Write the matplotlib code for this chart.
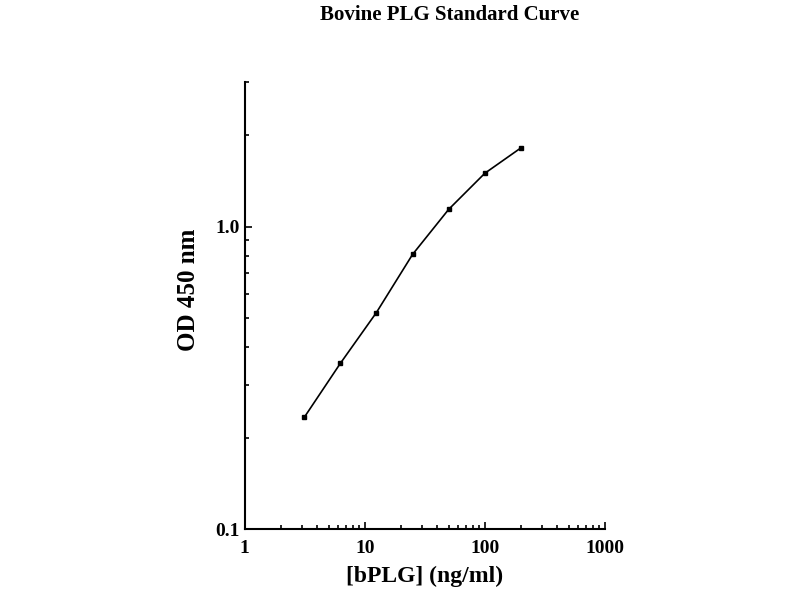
import matplotlib.pyplot as plt
from matplotlib.ticker import FixedLocator, LogLocator, NullFormatter

# Standard curve readings
conc = [3.125, 6.25, 12.5, 25, 50, 100, 200]
od = [0.234, 0.353, 0.520, 0.809, 1.14, 1.50, 1.82]

x_ticks = [1, 10, 100, 1000]
x_labels = ["1", "10", "100", "1000"]
y_ticks = [0.1, 1.0]
y_labels = ["0.1", "1.0"]

plt.rcParams["font.family"] = ["Liberation Serif", "DejaVu Serif"]
plt.rcParams["font.weight"] = "bold"

fig = plt.figure(figsize=(8, 6), dpi=100)
ax = fig.add_axes([0.306, 0.118, 0.45, 0.745])

ax.plot(conc, od, color="black", linewidth=1.2, marker="s", markersize=3.5)

ax.set_xscale("log")
ax.set_yscale("log")
ax.set_xlim(1, 1000)
ax.set_ylim(0.1, 3.0)

ax.xaxis.set_major_locator(FixedLocator(x_ticks))
ax.set_xticklabels(x_labels)
ax.yaxis.set_major_locator(FixedLocator(y_ticks))
ax.set_yticklabels(y_labels)
ax.xaxis.set_minor_locator(LogLocator(base=10, subs=range(2, 10)))
ax.yaxis.set_minor_locator(LogLocator(base=10, subs=range(2, 10)))
ax.xaxis.set_minor_formatter(NullFormatter())
ax.yaxis.set_minor_formatter(NullFormatter())

for side in ["top", "right"]:
    ax.spines[side].set_visible(False)
for side in ["left", "bottom"]:
    ax.spines[side].set_linewidth(1.5)

ax.tick_params(which="both", direction="in", width=1.2, labelsize=14)
ax.tick_params(which="major", length=5)
ax.tick_params(which="minor", length=3)
ax.tick_params(axis="x", pad=8)

ax.set_xlabel("[bPLG] (ng/ml)", fontsize=17, fontweight="bold", labelpad=6)
ax.set_ylabel("OD 450 nm", fontsize=18, fontweight="bold")
ax.yaxis.set_label_coords(-0.125, 0.535)
fig.text(0.5625, 0.975, "Bovine PLG Standard Curve", ha="center", va="center",
         fontsize=15, fontweight="bold")

fig.savefig("out.png", dpi=100)
